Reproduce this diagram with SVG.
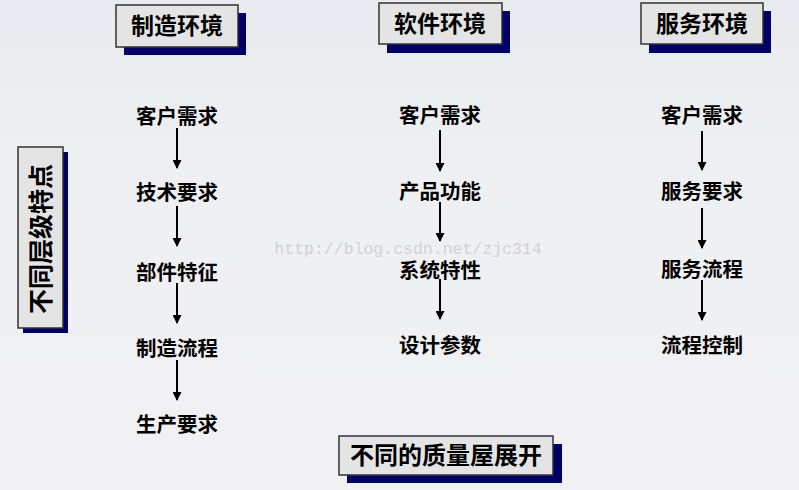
<svg xmlns="http://www.w3.org/2000/svg" width="799" height="490" viewBox="0 0 799 490">
<style>
.shadow{fill:#000066}
.box{fill:#e4e4e4;stroke:#333333;stroke-width:1.5}
.hd{font-family:"Liberation Sans","Noto Sans CJK SC",sans-serif;font-size:23px;font-weight:bold;fill:#000;text-anchor:middle}
.it{font-family:"Liberation Sans","Noto Sans CJK SC",sans-serif;font-size:20.5px;font-weight:bold;fill:#000;text-anchor:middle}
.wm{font-family:"Liberation Mono","DejaVu Sans Mono",monospace;font-size:16.5px;fill:#d2d2d2;text-anchor:middle}
.arr{stroke:#000;stroke-width:2;fill:none;marker-end:url(#ah)}
</style>
<defs>
<linearGradient id="bg" x1="0" y1="0" x2="0" y2="1">
<stop offset="0" stop-color="#e8eaef"/>
<stop offset="0.3" stop-color="#eeeff2"/>
<stop offset="1" stop-color="#f1f1f3"/>
</linearGradient>
<marker id="ah" viewBox="0 0 10 10" refX="9" refY="5" markerWidth="5" markerHeight="4.5" orient="auto" markerUnits="strokeWidth">
<path d="M0,0 L10,5 L0,10 z" fill="#000"/>
</marker>
</defs>
<rect x="0" y="0" width="799" height="490" fill="url(#bg)"/>
<text class="wm" x="408" y="254">http://blog.csdn.net/zjc314</text>

<g id="hdr-manufacturing">
<rect class="shadow" x="124" y="13" width="122" height="42"/>
<rect class="box" x="116" y="5" width="122" height="42"/>
<text class="hd" x="177" y="34">制造环境</text>
</g>
<g id="hdr-software">
<rect class="shadow" x="387" y="11" width="123" height="42"/>
<rect class="box" x="379" y="3" width="123" height="41"/>
<text class="hd" x="440" y="32">软件环境</text>
</g>
<g id="hdr-service">
<rect class="shadow" x="649" y="11" width="122" height="42"/>
<rect class="box" x="641" y="3" width="122" height="41"/>
<text class="hd" x="702" y="32">服务环境</text>
</g>
<g id="side-label">
<rect class="shadow" x="23" y="152" width="45" height="181"/>
<rect class="box" x="18" y="147" width="45" height="181"/>
<text class="hd" style="font-size:25px" transform="translate(50,239) rotate(-90)" x="0" y="0">不同层级特点</text>
</g>
<g id="bottom-label">
<rect class="shadow" x="347" y="444" width="215" height="39"/>
<rect class="box" x="339" y="436" width="214" height="39"/>
<text class="hd" style="font-size:24px" x="446" y="464">不同的质量屋展开</text>
</g>

<g id="m1"><text class="it" x="177" y="124">客户需求</text></g>
<g id="m2"><text class="it" x="177" y="200">技术要求</text></g>
<g id="m3"><text class="it" x="177" y="280">部件特征</text></g>
<g id="m4"><text class="it" x="177" y="356">制造流程</text></g>
<g id="m5"><text class="it" x="177" y="432">生产要求</text></g>

<g id="s1"><text class="it" x="440" y="123">客户需求</text></g>
<g id="s2"><text class="it" x="440" y="199">产品功能</text></g>
<g id="s3"><text class="it" x="440" y="278">系统特性</text></g>
<g id="s4"><text class="it" x="440" y="353">设计参数</text></g>

<g id="v1"><text class="it" x="702" y="123">客户需求</text></g>
<g id="v2"><text class="it" x="702" y="199">服务要求</text></g>
<g id="v3"><text class="it" x="702" y="277">服务流程</text></g>
<g id="v4"><text class="it" x="702" y="353">流程控制</text></g>

<g id="connectors">
<line class="arr" x1="177" y1="128" x2="177" y2="168"/>
<line class="arr" x1="177" y1="206" x2="177" y2="246"/>
<line class="arr" x1="177" y1="283" x2="177" y2="323"/>
<line class="arr" x1="177" y1="360" x2="177" y2="400"/>
<line class="arr" x1="440" y1="130" x2="440" y2="171"/>
<line class="arr" x1="440" y1="202" x2="440" y2="241"/>
<line class="arr" x1="440" y1="279" x2="440" y2="319"/>
<line class="arr" x1="702" y1="131" x2="702" y2="170"/>
<line class="arr" x1="702" y1="208" x2="702" y2="248"/>
<line class="arr" x1="702" y1="280" x2="702" y2="320"/>
</g>
</svg>
